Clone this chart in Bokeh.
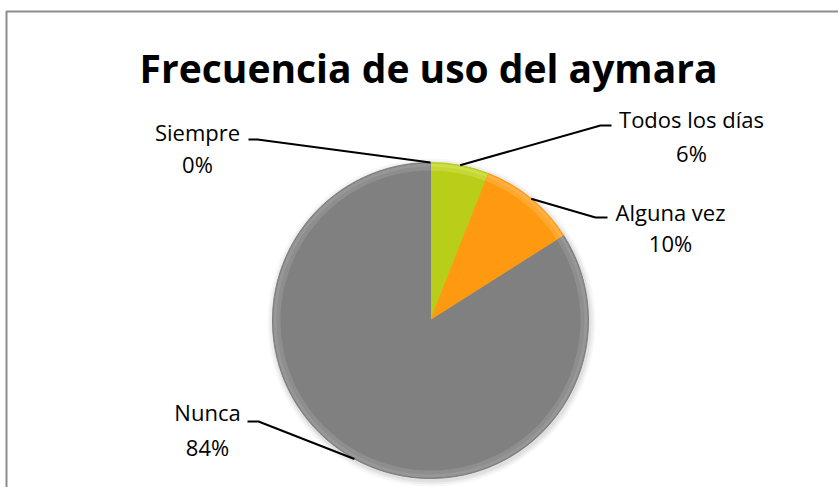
import math
from bokeh.plotting import figure
from bokeh.models import Range1d
from bokeh.embed import file_html
from bokeh.resources import INLINE
from bokeh.core.properties import value

# ---- data ----
title_text = "Frecuencia de uso del aymara"
categories = ["Todos los días", "Alguna vez", "Nunca", "Siempre"]
values = [6, 10, 84, 0]
pct_labels = ["6%", "10%", "84%", "0%"]
colors = ["#B9CE19", "#FF9A10", "#808080", "#4F81BD"]
rim_colors = ["#DCEB6A", "#FFC26A", "#A8A8A8", "#7FA3D0"]

# ---- layout (page pixel coords) ----
W, H = 838, 487
def Y(py):
    return H - py

p = figure(width=W, height=H, x_range=Range1d(0, W), y_range=Range1d(0, H),
           output_backend="svg", toolbar_location=None, min_border=0,
           x_axis_location=None, y_axis_location=None)
p.grid.visible = False
p.outline_line_color = None
p.background_fill_color = "white"
p.border_fill_color = "white"

# chart frame (left & top edges visible in the window)
p.line([6, 6, 1200], [Y(1000), Y(11), Y(11)], line_color="#8C8C8C", line_width=2)

cx, cy, R = 430, Y(320), 158
total = float(sum(values))

# soft shadow
for d, a in [(6, 0.03), (4, 0.04), (2, 0.05)]:
    p.circle(x=[cx + 1], y=[cy - 2], radius=R + d, fill_color="#000000", fill_alpha=a, line_color=None)

cum = 0.0
starts, ends, mids = [], [], []
for v in values:
    a0 = math.pi / 2 - 2 * math.pi * cum / total
    cum += v
    a1 = math.pi / 2 - 2 * math.pi * cum / total
    starts.append(a0)
    ends.append(a1)
    mids.append((a0 + a1) / 2)

for a0, a1, c, rc, v in zip(starts, ends, colors, rim_colors, values):
    if v <= 0:
        continue
    p.wedge(x=cx, y=cy, radius=R, start_angle=a1, end_angle=a0, direction="anticlock",
            fill_color=c, line_color=c, line_width=1)
    # bevel-like rim highlight
    p.annular_wedge(x=cx, y=cy, inner_radius=R - 8, outer_radius=R - 1, start_angle=a1, end_angle=a0,
                    direction="anticlock", fill_color=rc, fill_alpha=0.35, line_color=None)
    p.annular_wedge(x=cx, y=cy, inner_radius=R - 4, outer_radius=R - 1, start_angle=a1, end_angle=a0,
                    direction="anticlock", fill_color=rc, fill_alpha=0.35, line_color=None)

# label layout: elbow, line end, label centre, pct centre (page px)
label_layout = {
    "Todos los días": ((600, 125), (611, 125), (691, 118), (691, 152)),
    "Alguna vez": ((595, 217), (607, 217), (670, 211), (670, 242)),
    "Nunca": ((258, 421), (247, 421), (207, 411), (207, 446)),
    "Siempre": ((257, 139), (248, 139), (197, 131), (197, 163)),
}

font = value("Open Sans")
for cat, pct, m in zip(categories, pct_labels, mids):
    elbow, end, tpos, ppos = label_layout[cat]
    ax = cx + R * math.cos(m)
    ay = cy + R * math.sin(m)
    p.line([ax, elbow[0], end[0]], [ay, Y(elbow[1]), Y(end[1])], line_color="black", line_width=2)
    p.text(x=[tpos[0]], y=[Y(tpos[1])], text=[cat], text_font=font, text_font_size="22px",
           text_align="center", text_baseline="middle", text_color="black")
    p.text(x=[ppos[0]], y=[Y(ppos[1])], text=[pct], text_font=font, text_font_size="22px",
           text_align="center", text_baseline="middle", text_color="black")

p.text(x=[428], y=[Y(67)], text=[title_text], text_font=font, text_font_size="39px",
       text_font_style="bold", text_align="center", text_baseline="middle", text_color="black")

open("out.html", "w").write(file_html(p, INLINE))
